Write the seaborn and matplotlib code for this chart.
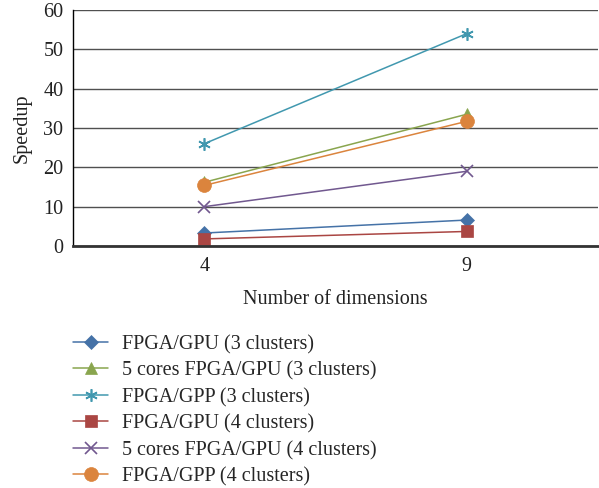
import pandas as pd
import matplotlib
matplotlib.use('Agg')
import matplotlib.pyplot as plt
import seaborn as sns

# values
dims = ['4', '9']
series_names = ['FPGA/GPU (3 clusters)', '5 cores FPGA/GPU (3 clusters)',
                'FPGA/GPP (3 clusters)', 'FPGA/GPU (4 clusters)',
                '5 cores FPGA/GPU (4 clusters)', 'FPGA/GPP (4 clusters)']
gpu_3 = [3.3, 6.6]
cores_3 = [16.2, 33.5]
gpp_3 = [26.0, 54.0]
gpu_4 = [1.8, 3.7]
cores_4 = [10.0, 19.0]
gpp_4 = [15.4, 31.7]

colors = ['#4572A7', '#89A54E', '#4198AF', '#AA4643', '#71588F', '#DB843D']
markers = ['D', '^', (6, 2, 0), 's', 'x', 'o']
msizes = [7, 8, 9, 9, 8, 10]

df = pd.DataFrame({
    'dims': dims * 6,
    'speedup': gpu_3 + cores_3 + gpp_3 + gpu_4 + cores_4 + gpp_4,
    'series': [s for s in series_names for _ in dims],
})

sns.set_theme(style='white')
plt.rcParams['font.family'] = ['Liberation Serif', 'DejaVu Serif']
fs = 14.5

fig = plt.figure(figsize=(5.99, 4.88), dpi=100)
ax = fig.add_axes([0.1219, 0.4959, 0.8765, 0.4836])

for name, c, m, ms in zip(series_names, colors, markers, msizes):
    sub = df[df.series == name]
    sns.lineplot(data=sub, x='dims', y='speedup', ax=ax, color=c, marker=m,
                 markersize=ms, linewidth=1.1, markeredgecolor=c,
                 markeredgewidth=1.2 if m in ('x', (6, 2, 0)) else 0.5,
                 label=name, legend=False)

ax.set_xlim(-0.5, 1.5)
ax.set_ylim(0, 60)
ax.set_yticks(range(0, 61, 10))
ax.yaxis.grid(True, color='#505050', linewidth=1)
ax.set_axisbelow(True)
ax.tick_params(axis='both', length=0, labelsize=fs, colors='#222222')
ax.tick_params(axis='x', pad=8)
ax.tick_params(axis='y', pad=7)
ax.set_xlabel('Number of dimensions', fontsize=fs, color='#222222', labelpad=10)
ax.set_ylabel('Speedup', fontsize=fs, color='#222222', labelpad=8)
for s in ['top', 'right']:
    ax.spines[s].set_visible(False)
ax.spines['left'].set_color('black')
ax.spines['left'].set_linewidth(1)
ax.spines['bottom'].set_color('#333333')
ax.spines['bottom'].set_linewidth(2)

handles, labels = ax.get_legend_handles_labels()
fig.legend(handles, labels, loc='upper left', bbox_to_anchor=(0.122, 0.314),
           frameon=False, fontsize=fs, handlelength=1.75, handletextpad=0.7,
           labelspacing=0.36, borderpad=0, borderaxespad=0)

plt.savefig('out.png', dpi=100)
